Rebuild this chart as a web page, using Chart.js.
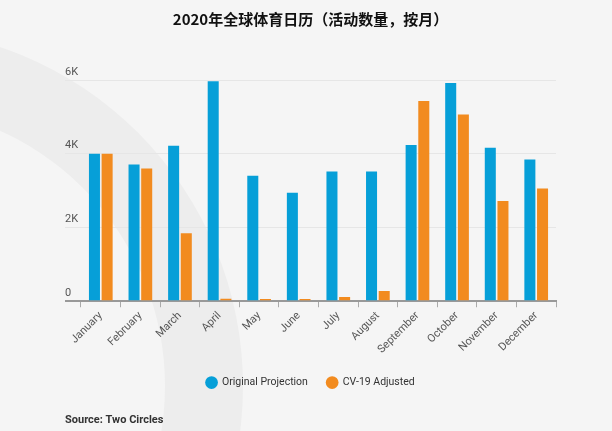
<!DOCTYPE html>
<html>
<head>
<meta charset="utf-8">
<script src="https://cdn.jsdelivr.net/npm/chart.js@4/dist/chart.umd.min.js"></script>
<style>
    html, body { margin: 0; padding: 0; background: #f5f5f5; }
    #wrap { width: 612px; height: 431px; position: relative; }
</style>
</head>
<body>
<div id="wrap"><canvas id="sportsCalendarChart"></canvas></div>
<script>
// --- データ ---
const months = ['January', 'February', 'March', 'April', 'May', 'June',
    'July', 'August', 'September', 'October', 'November', 'December'];
const originalProjection = [4000, 3710, 4215, 5965, 3400, 2940, 3520, 3520, 4235, 5920, 4160, 3845];
const cv19Adjusted = [4000, 3600, 1845, 70, 60, 60, 115, 280, 5430, 5065, 2720, 3055];
const yTickValues = [0, 2000, 4000, 6000];
const yTickLabels = ['0', '2K', '4K', '6K'];

const BLUE = '#069fd8';
const ORANGE = '#f28b1f';

// 背景の大きな円弧（装飾）
const backgroundArc = {
    id: 'backgroundArc',
    beforeDraw(chart) {
        const ctx = chart.ctx;
        ctx.save();
        ctx.fillStyle = '#f5f5f5';
        ctx.fillRect(0, 0, chart.width, chart.height);
        ctx.beginPath();
        ctx.arc(-115, 386, 358, 0, Math.PI * 2);
        ctx.arc(-115, 386, 280, 0, Math.PI * 2, true);
        ctx.fillStyle = '#ededed';
        ctx.fill('evenodd');
        ctx.restore();
    }
};

const ctx = document.getElementById('sportsCalendarChart').getContext('2d');
new Chart(ctx, {
    type: 'bar',
    data: {
        labels: months,
        datasets: [
            { label: 'Original Projection', data: originalProjection, backgroundColor: BLUE },
            { label: 'CV-19 Adjusted', data: cv19Adjusted, backgroundColor: ORANGE }
        ]
    },
    options: {
        responsive: true,
        maintainAspectRatio: false,
        animation: false,
        categoryPercentage: 0.64,
        barPercentage: 0.87,
        layout: { padding: { left: 65, right: 56, top: 0, bottom: 0 } },
        scales: {
            x: {
                grid: { offset: true, drawOnChartArea: false, tickLength: 6, color: '#aaaaaa' },
                border: { color: '#999999', width: 2 },
                ticks: {
                    minRotation: 45, maxRotation: 45, padding: 2,
                    color: '#555555', font: { family: 'Roboto', size: 11 }
                }
            },
            y: {
                min: 0, max: 6000,
                afterBuildTicks: (scale) => { scale.ticks = yTickValues.map(v => ({ value: v })); },
                afterFit: (scale) => { scale.width = 16; },
                border: { display: false },
                grid: {
                    tickLength: 16,
                    color: (c) => c.tick && c.tick.value === 0 ? '#999999' : '#e6e6e6',
                    lineWidth: (c) => c.tick && c.tick.value === 0 ? 2 : 1
                },
                ticks: {
                    crossAlign: 'far', labelOffset: -8, padding: 0,
                    color: '#555555', font: { family: 'Roboto', size: 11 },
                    callback: (v) => yTickLabels[yTickValues.indexOf(v)]
                }
            }
        },
        plugins: {
            title: {
                display: true,
                text: '2020年全球体育日历（活动数量，按月）',
                color: '#111111',
                font: { family: 'Noto Sans CJK SC', size: 15, weight: 'bold' },
                padding: { top: 10, bottom: 52 }
            },
            legend: {
                position: 'bottom',
                labels: {
                    usePointStyle: true, pointStyle: 'circle', boxHeight: 9,
                    padding: 19, color: '#333333',
                    font: { family: 'Roboto', size: 10.5 }
                }
            },
            subtitle: {
                display: true,
                position: 'bottom',
                align: 'start',
                text: 'Source: Two Circles',
                color: '#333333',
                font: { family: 'Roboto', size: 11, weight: 'bold' },
                padding: { top: 16, bottom: 4 }
            },
            tooltip: { enabled: false }
        }
    },
    plugins: [backgroundArc]
});
</script>
</body>
</html>
